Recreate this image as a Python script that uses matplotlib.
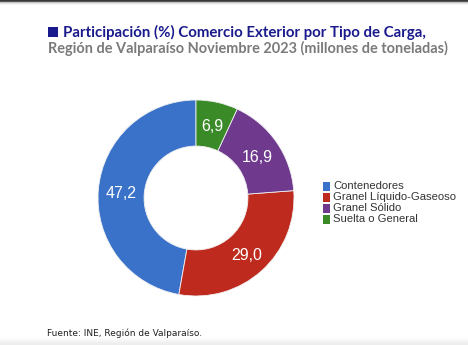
import matplotlib
matplotlib.use("Agg")
import matplotlib.pyplot as plt
import numpy as np

categories = ["Contenedores", "Granel Líquido-Gaseoso", "Granel Sólido", "Suelta o General"]
values = [47.2, 29.0, 16.9, 6.9]
labels = ["47,2", "29,0", "16,9", "6,9"]
colors = ["#3a72c9", "#bf2a1f", "#6f3a8e", "#3b8a28"]
title1 = "Participación (%) Comercio Exterior por Tipo de Carga,"
title2 = "Región de Valparaíso Noviembre 2023 (millones de toneladas)"
source = "Fuente: INE, Región de Valparaíso."

W, H = 468, 345
fig = plt.figure(figsize=(W / 100, H / 100), dpi=100)
fig.patch.set_facecolor("white")
renderer = fig.canvas.get_renderer()

def fit_text(x, y, s, target_w, **kw):
    t = fig.text(x / W, 1 - y / H, s, va="baseline", ha="left", **kw)
    w = t.get_window_extent(renderer).width
    t.set_fontsize(t.get_fontsize() * target_w / w)
    return t

# Donut
cx, cy, r = 196, 198, 98
ax = fig.add_axes([(cx - r) / W, 1 - (cy + r) / H, 2 * r / W, 2 * r / H])
wedges, _ = ax.pie(values, colors=colors, startangle=90, counterclock=True,
                   radius=1.0, wedgeprops=dict(width=0.47, edgecolor="#f0f0f0", linewidth=0.6))
ax.set_xlim(-1, 1)
ax.set_ylim(-1, 1)
ax.set_aspect("equal")
ax.axis("off")

total = sum(values)
start = 90.0
for v, lab in zip(values, labels):
    mid = start + v / total * 360 / 2
    start += v / total * 360
    rr = 0.765
    ax.text(rr * np.cos(np.radians(mid)), rr * np.sin(np.radians(mid)) - 0.02, lab,
            color="white", fontsize=11.5, ha="center", va="center", family="Liberation Sans")

# Legend
leg_x, leg_y0, dy = 323, 186, 11
for i, (c, name) in enumerate(zip(colors, categories)):
    y = leg_y0 + i * dy
    fig.patches.append(plt.Rectangle((leg_x / W, 1 - (y + 4.5) / H), 7 / W, 9 / H,
                                     transform=fig.transFigure, facecolor=c, edgecolor="none"))
    fig.text((leg_x + 10) / W, 1 - y / H, name, fontsize=8.1, family="Liberation Sans",
             color="#333333", va="center", ha="left")

# Title
fig.patches.append(plt.Rectangle((48 / W, 1 - 37 / H), 10 / W, 10 / H,
                                 transform=fig.transFigure, facecolor="#1a1a8c", edgecolor="none"))
fit_text(63, 37, title1, 365, fontsize=10, fontweight="bold", color="#1a1a8c", family="Lato")
fit_text(48, 53, title2, 402, fontsize=10, fontweight="bold", color="#7a7a7a", family="Lato")

# Footnote
fit_text(47, 336, source, 155, fontsize=6.4, color="#222222", family="DejaVu Sans")

# Top border with shadow
top_ax = fig.add_axes([0, 1 - 6 / H, 1, 6 / H])
top_img = np.ones((6, 1, 3))
for i, s in enumerate([0.22, 0.35, 0.75, 0.9, 0.96, 1.0]):
    top_img[i, 0, :] = s
top_ax.imshow(top_img, aspect="auto", extent=[0, 1, 0, 1])
top_ax.axis("off")

# Bottom shadow
bot_ax = fig.add_axes([0, 0, 1, 8 / H])
bot_img = np.ones((8, 1, 3))
for i, s in enumerate([1.0, 0.99, 0.98, 0.97, 0.955, 0.945, 0.935, 0.93]):
    bot_img[i, 0, :] = s
bot_ax.imshow(bot_img, aspect="auto", extent=[0, 1, 0, 1])
bot_ax.axis("off")

fig.savefig("out.png", dpi=100, facecolor="white")
